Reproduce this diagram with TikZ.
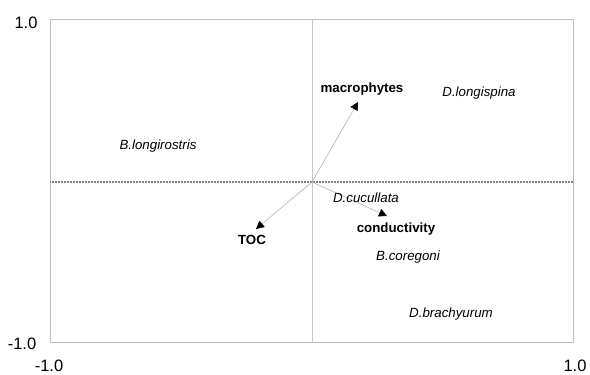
\documentclass[tikz,border=0pt]{standalone}
\usepackage{fontspec}
\setmainfont{Liberation Sans}
\usetikzlibrary{arrows.meta}
\begin{document}
\begin{tikzpicture}[x=1pt,y=-1pt,
  frame/.style={draw=black!25,line width=0.8pt},
  vaxis/.style={draw=black!22,line width=0.8pt},
  haxis/.style={draw=black!50,line width=1.2pt,dash pattern=on 1pt off 0.5pt},
  envarrow/.style={draw=black!30,line width=0.6pt,-{Triangle[length=8pt,width=8pt,fill=black,color=black]}},
  species/.style={font=\fontsize{13.3}{15}\selectfont\itshape,inner sep=0pt},
  envlabel/.style={font=\fontsize{13.3}{15}\selectfont\bfseries,inner sep=0pt},
  ticklabel/.style={font=\fontsize{16.5}{18}\selectfont,inner sep=0pt}]
\useasboundingbox (0,0) rectangle (590,375);
\draw[frame] (50,19) rectangle (573,342);
\draw[vaxis] (312,19) -- (312,342);
\draw[haxis] (50,182) -- (573,182);
\coordinate (O) at (312,182);
\coordinate (macro) at (358,102);
\coordinate (toc) at (256,229);
\coordinate (cond) at (387,216);
\draw[envarrow] (O) -- (macro);
\draw[envarrow] (O) -- (toc);
\draw[envarrow] (O) -- (cond);
\node[envlabel] (lmacro) at (362,89) {macrophytes};
\node[envlabel] (ltoc) at (252,240) {TOC};
\node[envlabel] (lcond) at (396,229) {conductivity};
\node[species] (dlong) at (479,93) {D.longispina};
\node[species] (blong) at (158,146) {B.longirostris};
\node[species] (dcuc) at (366,198) {D.cucullata};
\node[species] (bcor) at (408,257) {B.coregoni};
\node[species] (dbra) at (451,314) {D.brachyurum};
\node[ticklabel] (ytop) at (26,23) {1.0};
\node[ticklabel] (ybot) at (22,344) {-1.0};
\node[ticklabel] (xleft) at (49,366) {-1.0};
\node[ticklabel] (xright) at (575,366) {1.0};
\end{tikzpicture}
\end{document}
